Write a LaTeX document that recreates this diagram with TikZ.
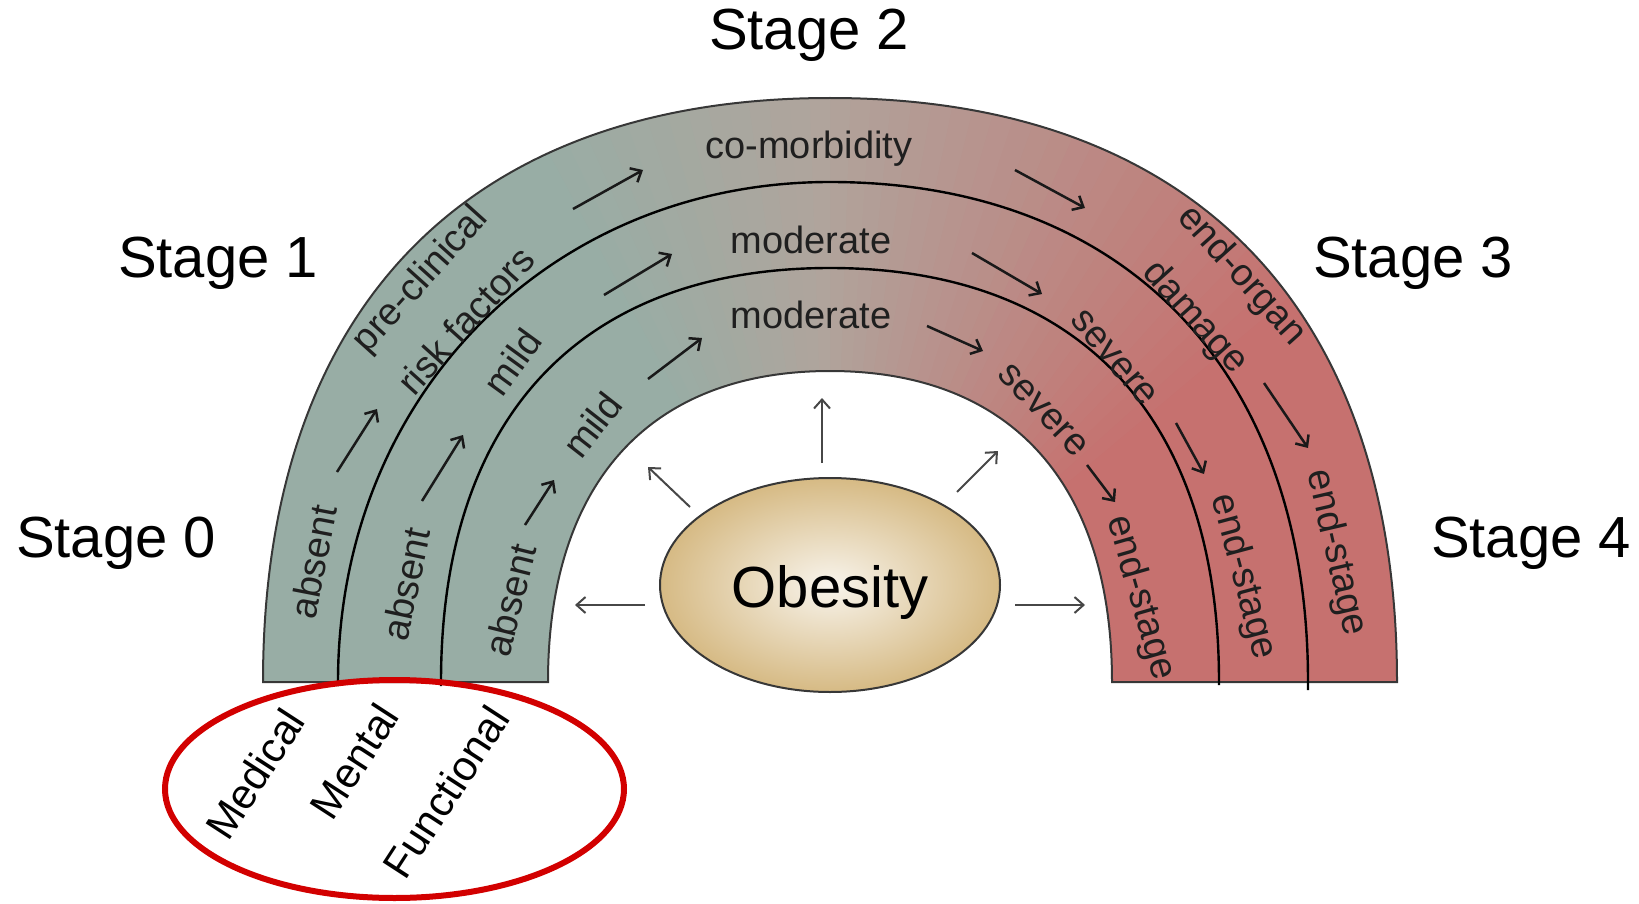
\documentclass[tikz,border=0pt]{standalone}
\usepackage{fontspec}
\setmainfont{Liberation Sans}
\usetikzlibrary{arrows.meta,shapes.geometric}
\definecolor{bandteal}{RGB}{152,173,165}
\definecolor{bandmid}{RGB}{176,164,156}
\definecolor{bandred}{RGB}{198,113,111}
\definecolor{edgegray}{RGB}{55,55,55}
\definecolor{ringred}{RGB}{210,0,0}
\definecolor{obin}{RGB}{248,244,236}
\definecolor{obout}{RGB}{214,186,132}
\begin{document}
\begin{tikzpicture}[x=0.5pt,y=-0.5pt,
  bandtext/.style={font=\fontsize{19}{23.5}\selectfont, inner sep=0pt, align=center, text=black!88},
  stagetext/.style={font=\fontsize{29}{31}\selectfont, anchor=base, inner sep=0pt},
  dimtext/.style={font=\fontsize{21}{23}\selectfont, inner sep=0pt, rotate=57},
  bandarrow/.style={draw=black!90, line width=1.25pt, -{Straight Barb[length=4.5pt,width=8pt]}},
  obarrow/.style={draw=black!72, line width=1pt, -{Straight Barb[length=4.5pt,width=8pt]}},
  bandedge/.style={draw=edgegray, line width=1pt},
  divider/.style={draw=black, line width=1.2pt},
]
\useasboundingbox (0,0) rectangle (1639,904);

% ---- band fill with angular gradient ----
\begin{scope}
\clip (263,682) .. controls (263,308.2) and (467.1,98) .. (830,98)
      .. controls (1192.9,98) and (1397,308.2) .. (1397,682)
      -- (1112,682) .. controls (1112,483) and (1010.5,371) .. (830,371)
      .. controls (649.5,371) and (548,483) .. (548,682) -- cycle;
\foreach \a in {-6,-4,...,186}{
  \ifdim \a pt<90pt
    \pgfmathsetmacro\mixp{max(0,min(100,(90-\a)/52*100))}
    \colorlet{wedgecol}{bandred!\mixp!bandmid}
  \else
    \pgfmathsetmacro\mixp{max(0,min(100,(\a-90)/28*100))}
    \colorlet{wedgecol}{bandteal!\mixp!bandmid}
  \fi
  \pgfmathsetmacro\bb{\a+2.6}
  \fill[wedgecol] (830,682) -- ({830+720*cos(\a)},{682-720*sin(\a)})
                 -- ({830+720*cos(\bb)},{682-720*sin(\bb)}) -- cycle;
}
\end{scope}

% ---- band outline ----
\draw[bandedge] (263,682) .. controls (263,308.2) and (467.1,98) .. (830,98)
      .. controls (1192.9,98) and (1397,308.2) .. (1397,682)
      -- (1112,682) .. controls (1112,483) and (1010.5,371) .. (830,371)
      .. controls (649.5,371) and (548,483) .. (548,682) -- cycle;

% ---- dividers ----
\draw[divider] (338,686) -- (338,682) .. controls (338,397) and (549.6,182) .. (830,182)
      .. controls (1126.4,182) and (1308,372) .. (1308,682) -- (1308,690);
\draw[divider] (441,686) -- (441,682) .. controls (441,417) and (581,268) .. (830,268)
      .. controls (1079,268) and (1219,417) .. (1219,682) -- (1219,685);

% ---- stage labels ----
\node[stagetext] (s0) at (116,557) {Stage 0};
\node[stagetext] (s1) at (218,277) {Stage 1};
\node[stagetext] (s2) at (809,50) {Stage 2};
\node[stagetext] (s3) at (1413,277) {Stage 3};
\node[stagetext] (s4) at (1531,557) {Stage 4};

% ---- outer band (medical) ----
\node[bandtext, rotate=79] (m0) at (313,562) {absent};
\node[bandtext, rotate=48] (m1) at (442,299) {pre-clinical\\[8pt]risk factors};
\node[bandtext, anchor=base] (m2) at (809,159) {co-morbidity};
\node[bandtext, rotate=-48] (m3) at (1218,297) {end-organ\\[8pt]damage};
\node[bandtext, rotate=-77] (m4) at (1336,553) {end-stage};

% ---- middle band (mental) ----
\node[bandtext, rotate=78] (n0) at (406,584) {absent};
\node[bandtext, rotate=54] (n1) at (512,362) {mild};
\node[bandtext, anchor=base] (n2) at (811,253) {moderate};
\node[bandtext, rotate=-50] (n3) at (1114,358) {severe};
\node[bandtext, rotate=-75] (n4) at (1243,577) {end-stage};

% ---- inner band (functional) ----
\node[bandtext, rotate=76] (f0) at (510,600) {absent};
\node[bandtext, rotate=52] (f1) at (592,425) {mild};
\node[bandtext, anchor=base] (f2) at (811,328) {moderate};
\node[bandtext, rotate=-47] (f3) at (1043,410) {severe};
\node[bandtext, rotate=-74] (f4) at (1140,598) {end-stage};

% ---- band arrows ----
\coordinate (ma1) at (337,472); \coordinate (mb1) at (377,409);
\coordinate (ma2) at (573,209); \coordinate (mb2) at (643,170);
\coordinate (ma3) at (1015,170); \coordinate (mb3) at (1085,208);
\coordinate (ma4) at (1264,383); \coordinate (mb4) at (1308,448);
\coordinate (na1) at (422,501); \coordinate (nb1) at (463,435);
\coordinate (na2) at (604,295); \coordinate (nb2) at (672,254);
\coordinate (na3) at (972,253); \coordinate (nb3) at (1042,294);
\coordinate (na4) at (1176,423); \coordinate (nb4) at (1204,474);
\coordinate (fa1) at (525,525); \coordinate (fb1) at (554,480);
\coordinate (fa2) at (648,379); \coordinate (fb2) at (702,338);
\coordinate (fa3) at (927,326); \coordinate (fb3) at (983,351);
\coordinate (fa4) at (1087,465); \coordinate (fb4) at (1115,502);
\foreach \p in {m,n,f}{
  \foreach \i in {1,2,3,4}{
    \draw[bandarrow] (\p a\i) -- (\p b\i);
  }
}

% ---- obesity ----
\node[ellipse, draw=edgegray, line width=1pt, inner color=obin, outer color=obout,
      minimum width=170pt, minimum height=107pt, inner sep=0pt] (ob) at (830,585) {};
\node[font=\fontsize{29}{31}\selectfont, anchor=base, inner sep=0pt] (obt) at (830,607) {Obesity};

\coordinate (ou1) at (822,463); \coordinate (ou2) at (822,398);
\coordinate (ol1) at (690,507); \coordinate (ol2) at (648,467);
\coordinate (or1) at (957,492); \coordinate (or2) at (998,451);
\coordinate (oL1) at (645,605); \coordinate (oL2) at (575,605);
\coordinate (oR1) at (1015,605); \coordinate (oR2) at (1085,605);
\draw[obarrow] (ou1) -- (ou2);
\draw[obarrow] (ol1) -- (ol2);
\draw[obarrow] (or1) -- (or2);
\draw[obarrow] (oL1) -- (oL2);
\draw[obarrow] (oR1) -- (oR2);

% ---- dimensions ----
\node[dimtext] (dmed) at (255,774) {Medical};
\node[dimtext] (dmen) at (354,761) {Mental};
\node[dimtext] (dfun) at (446,792) {Functional};
\node[ellipse, draw=ringred, line width=3pt, minimum width=229.5pt, minimum height=109pt,
      inner sep=0pt] (ring) at (394.5,789) {};
\end{tikzpicture}
\end{document}
